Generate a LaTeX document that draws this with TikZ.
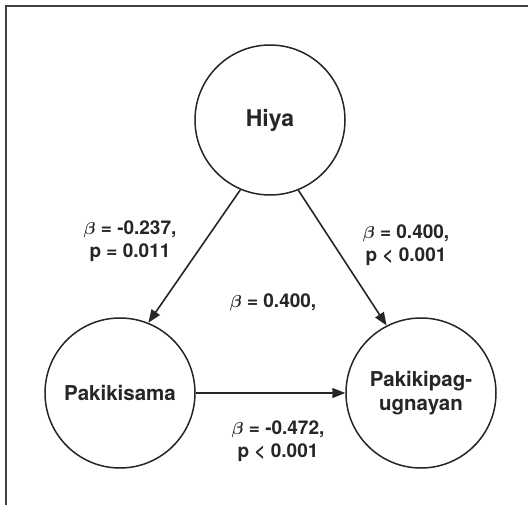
\documentclass[tikz,border=0pt]{standalone}
\usepackage{amsmath}
\usepackage{fontspec}
\setmainfont{TeX Gyre Heros}
\usetikzlibrary{arrows.meta}
\tikzset{
  var/.style={circle, draw=black!85, line width=1.5pt, minimum size=150pt, inner sep=0pt, align=center, font=\bfseries\fontsize{20.5}{24}\selectfont, text=black!85},
  conn/.style={line width=1.6pt, draw=black!85, -{Triangle[length=13pt,width=10pt]}},
  lab/.style={align=center, font=\bfseries\fontsize{19}{23}\selectfont, text=black!85, inner sep=0pt},
  frame/.style={line width=2pt, draw=black!75}
}
\begin{document}
\begin{tikzpicture}[x=1pt,y=-1pt]
\useasboundingbox (0,0) rectangle (528,505);
\fill[white] (0,0) rectangle (528,505);
\coordinate (fbl) at (6,505);
\coordinate (ftl) at (6,6);
\coordinate (ftr) at (528,6);
\draw[frame] (fbl) -- (ftl) -- (ftr);
\node[var, font=\bfseries\fontsize{23}{26}\selectfont] (hiya) at (270,120) {Hiya};
\node[var] (pks) at (120,393) {Pakikisama};
\node[var] (pkp) at (421,393) {Pakikipag-\\ugnayan};
\draw[conn] (hiya.247) -- (pks.68);
\draw[conn] (hiya.292) -- (pkp.117);
\draw[conn] (pks.east) -- (pkp.west);
\node[lab] (l1) at (130,241) {$\boldsymbol{\beta}$ = -0.237,\\p = 0.011};
\node[lab] (l2) at (406,245) {$\boldsymbol{\beta}$ = 0.400,\\p < 0.001};
\node[lab] (l3) at (273,302) {$\boldsymbol{\beta}$ = 0.400,};
\node[lab] (l4) at (278,441) {$\boldsymbol{\beta}$ = -0.472,\\p < 0.001};
\end{tikzpicture}
\end{document}
